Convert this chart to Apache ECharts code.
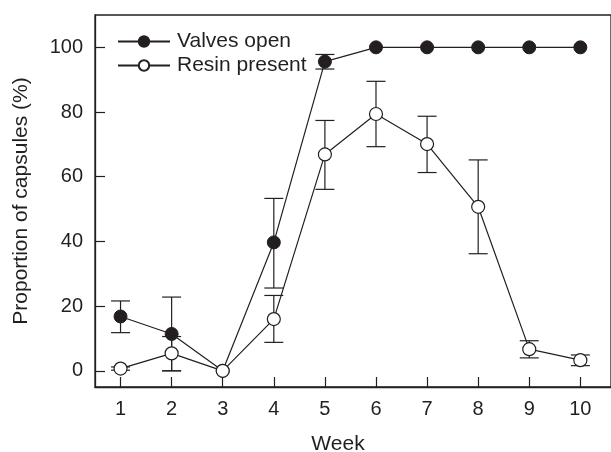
<!DOCTYPE html>
<html>
<head>
<meta charset="utf-8">
<script src="https://cdn.jsdelivr.net/npm/echarts@6/dist/echarts.min.js"></script>
<style>
  html, body { margin: 0; padding: 0; background: #fff; }
  #chart { width: 611px; height: 452px; }
</style>
</head>
<body>
<div id="chart"></div>
<script>
// Week-by-week proportion of capsules, mean with error bars
const weeks = [1, 2, 3, 4, 5, 6, 7, 8, 9, 10];
const yTicks = [0, 20, 40, 60, 80, 100];

const valvesOpen = [16.8, 11.4, 0, 39.7, 95.6, 100, 100, 100, 100, 100];
const valvesLow  = [11.8, 0, null, 25.6, 93.3, null, null, null, null, null];
const valvesHigh = [21.6, 22.8, null, 53.3, 97.8, null, null, null, null, null];

const resinPresent = [0.7, 5.4, 0, 16.0, 66.9, 79.4, 70.1, 50.7, 6.7, 3.3];
const resinLow  = [0.2, 0, null, 8.8, 56.1, 69.3, 61.3, 36.2, 4.0, 1.6];
const resinHigh = [1.2, 10.6, null, 23.3, 77.4, 89.5, 78.7, 65.2, 9.3, 4.9];

const INK = '#231f20';
const FONT = '"Liberation Sans", Arial, Helvetica, sans-serif';

function pairs(vals) {
  return weeks.map((w, i) => [w, vals[i]]);
}

function errData(lo, hi) {
  const out = [];
  weeks.forEach((w, i) => {
    if (lo[i] != null && hi[i] != null) out.push([w, lo[i], hi[i]]);
  });
  return out;
}

function renderErr(params, api) {
  const x = api.value(0);
  const top = api.coord([x, api.value(2)]);
  const bot = api.coord([x, api.value(1)]);
  const hw = 9.5;
  const style = { stroke: INK, lineWidth: 1.2, fill: null };
  return {
    type: 'group',
    children: [
      { type: 'line', shape: { x1: top[0], y1: top[1], x2: bot[0], y2: bot[1] }, style },
      { type: 'line', shape: { x1: top[0] - hw, y1: top[1], x2: top[0] + hw, y2: top[1] }, style },
      { type: 'line', shape: { x1: bot[0] - hw, y1: bot[1], x2: bot[0] + hw, y2: bot[1] }, style },
    ],
  };
}

const chart = echarts.init(document.getElementById('chart'));

chart.setOption({
  backgroundColor: '#fff',
  animation: false,
  grid: {
    left: 95, right: 0, top: 15, bottom: 65,
    outerBoundsMode: 'none',
    containLabel: false,
    show: true, borderColor: INK, borderWidth: 1.3, backgroundColor: 'transparent',
  },
  legend: {
    orient: 'vertical',
    left: 117, top: 31,
    padding: 0,
    itemWidth: 52, itemHeight: 13, itemGap: 3,
    textStyle: { fontSize: 21, color: INK, fontFamily: FONT, padding: [0, 0, 0, 2] },
    data: ['Valves open', 'Resin present'],
  },
  xAxis: {
    type: 'value',
    min: 0.5, max: 10.6,
    name: 'Week',
    nameLocation: 'middle',
    nameGap: 47,
    nameTextStyle: { fontSize: 21, color: INK, fontFamily: FONT, padding: [0, 30, 0, 0] },
    axisLine: { show: true, onZero: false, lineStyle: { color: INK, width: 1.3 } },
    axisTick: { show: true, inside: true, length: 10, lineStyle: { color: INK, width: 1.2 }, customValues: weeks },
    axisLabel: { fontSize: 20, color: INK, fontFamily: FONT, margin: 12, customValues: weeks },
    splitLine: { show: false },
  },
  yAxis: {
    type: 'value',
    min: -5, max: 110,
    name: 'Proportion of capsules (%)',
    nameLocation: 'middle',
    nameGap: 63,
    nameTextStyle: { fontSize: 21, color: INK, fontFamily: FONT },
    axisLine: { show: true, onZero: false, lineStyle: { color: INK, width: 1.3 } },
    axisTick: { show: true, inside: true, length: 10, lineStyle: { color: INK, width: 1.2 }, customValues: yTicks },
    axisLabel: { fontSize: 20, color: INK, fontFamily: FONT, margin: 12, customValues: yTicks },
    splitLine: { show: false },
  },
  series: [
    {
      type: 'custom',
      name: 'valvesErr',
      renderItem: renderErr,
      data: errData(valvesLow, valvesHigh),
      z: 1,
      silent: true,
    },
    {
      type: 'custom',
      name: 'resinErr',
      renderItem: renderErr,
      data: errData(resinLow, resinHigh),
      z: 1,
      silent: true,
    },
    {
      type: 'line',
      name: 'Valves open',
      data: pairs(valvesOpen),
      symbol: 'circle',
      symbolSize: 13,
      showAllSymbol: true,
      lineStyle: { color: INK, width: 1.2 },
      itemStyle: { color: INK, borderColor: INK, borderWidth: 1 },
      z: 3,
    },
    {
      type: 'line',
      name: 'Resin present',
      data: pairs(resinPresent),
      symbol: 'circle',
      symbolSize: 13,
      showAllSymbol: true,
      lineStyle: { color: INK, width: 1.2 },
      itemStyle: { color: '#fff', borderColor: INK, borderWidth: 1.2 },
      z: 4,
    },
  ],
});
</script>
</body>
</html>
